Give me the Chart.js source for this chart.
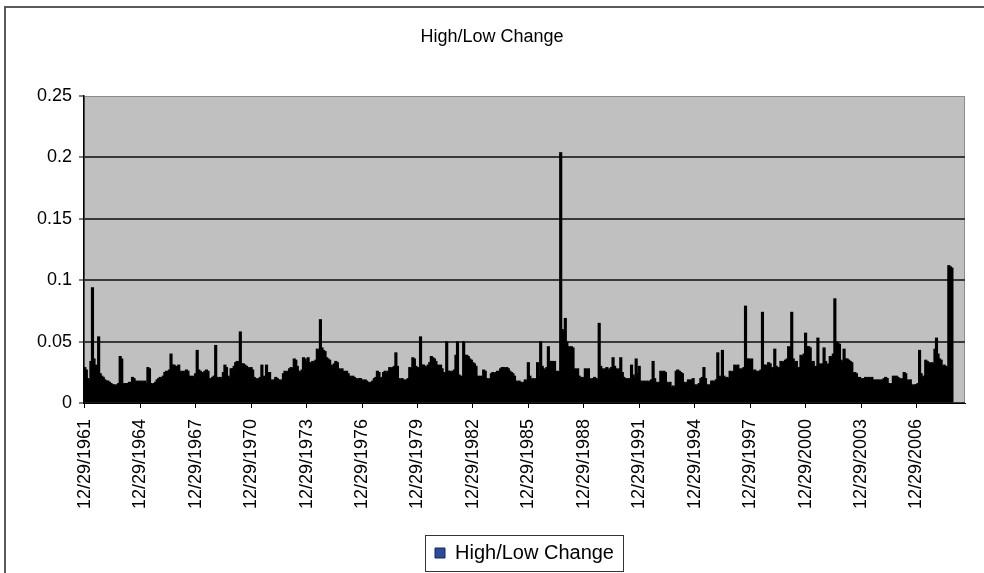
<!DOCTYPE html>
<html>
<head>
<meta charset="utf-8">
<title>High/Low Change</title>
<script src="https://cdn.jsdelivr.net/npm/chart.js@4.4.1/dist/chart.umd.min.js"></script>
<style>
  html, body { margin: 0; padding: 0; background: #fff; }
  canvas { display: block; }
</style>
</head>
<body>
<canvas id="chart" width="984" height="573"></canvas>
<script>
// Monthly high/low change, one row of 12 months per line (each row starts in December).
const dec1961_nov1969 = [
  0.029, 0.027, 0.020, 0.019, 0.034, 0.094, 0.036, 0.031, 0.030, 0.054, 0.024, 0.022,
  0.021, 0.019, 0.018, 0.018, 0.017, 0.016, 0.015, 0.015, 0.014, 0.015, 0.016, 0.038,
  0.036, 0.016, 0.015, 0.016, 0.016, 0.017, 0.016, 0.021, 0.020, 0.018, 0.017, 0.018,
  0.017, 0.018, 0.017, 0.018, 0.016, 0.029, 0.028, 0.016, 0.015, 0.016, 0.017, 0.019,
  0.020, 0.021, 0.020, 0.022, 0.025, 0.026, 0.024, 0.027, 0.040, 0.031, 0.031, 0.030,
  0.029, 0.031, 0.026, 0.025, 0.026, 0.024, 0.027, 0.026, 0.022, 0.021, 0.022, 0.020,
  0.024, 0.043, 0.027, 0.026, 0.025, 0.024, 0.026, 0.027, 0.026, 0.020, 0.019, 0.021,
  0.022, 0.047, 0.021, 0.020, 0.021, 0.019, 0.025, 0.031, 0.029, 0.022, 0.021, 0.028
];
const dec1969_nov1977 = [
  0.028, 0.030, 0.033, 0.034, 0.033, 0.058, 0.032, 0.032, 0.031, 0.030, 0.029, 0.028,
  0.029, 0.027, 0.021, 0.020, 0.019, 0.020, 0.021, 0.031, 0.022, 0.021, 0.031, 0.022,
  0.025, 0.019, 0.018, 0.019, 0.021, 0.020, 0.019, 0.018, 0.019, 0.024, 0.026, 0.025,
  0.026, 0.028, 0.029, 0.028, 0.036, 0.035, 0.030, 0.026, 0.025, 0.027, 0.037, 0.036,
  0.034, 0.037, 0.033, 0.032, 0.034, 0.033, 0.035, 0.044, 0.042, 0.068, 0.045, 0.043,
  0.042, 0.037, 0.036, 0.035, 0.031, 0.030, 0.032, 0.034, 0.033, 0.028, 0.027, 0.028,
  0.026, 0.025, 0.026, 0.024, 0.022, 0.021, 0.022, 0.021, 0.020, 0.019, 0.020, 0.020,
  0.019, 0.018, 0.019, 0.018, 0.017, 0.016, 0.017, 0.018, 0.020, 0.021, 0.026, 0.025
];
const dec1977_nov1985 = [
  0.020, 0.021, 0.025, 0.026, 0.024, 0.026, 0.029, 0.028, 0.029, 0.030, 0.041, 0.030,
  0.020, 0.019, 0.020, 0.019, 0.018, 0.019, 0.020, 0.029, 0.028, 0.037, 0.036, 0.030,
  0.029, 0.028, 0.054, 0.031, 0.031, 0.030, 0.029, 0.031, 0.033, 0.038, 0.037, 0.036,
  0.034, 0.031, 0.030, 0.031, 0.028, 0.025, 0.024, 0.050, 0.026, 0.026, 0.025, 0.026,
  0.027, 0.039, 0.050, 0.023, 0.022, 0.021, 0.050, 0.039, 0.039, 0.038, 0.036, 0.035,
  0.033, 0.032, 0.030, 0.022, 0.021, 0.022, 0.021, 0.027, 0.026, 0.020, 0.019, 0.020,
  0.024, 0.025, 0.024, 0.025, 0.026, 0.025, 0.028, 0.029, 0.029, 0.028, 0.029, 0.028,
  0.026, 0.025, 0.024, 0.022, 0.018, 0.017, 0.018, 0.017, 0.016, 0.017, 0.019, 0.018
];
const dec1985_nov1993 = [
  0.033, 0.022, 0.019, 0.020, 0.019, 0.020, 0.033, 0.022, 0.050, 0.030, 0.028, 0.027,
  0.029, 0.046, 0.034, 0.034, 0.033, 0.034, 0.025, 0.026, 0.025, 0.204, 0.060, 0.058,
  0.069, 0.050, 0.046, 0.045, 0.046, 0.045, 0.028, 0.027, 0.028, 0.022, 0.020, 0.021,
  0.020, 0.028, 0.027, 0.028, 0.020, 0.019, 0.020, 0.021, 0.020, 0.019, 0.065, 0.030,
  0.028, 0.027, 0.028, 0.029, 0.027, 0.028, 0.029, 0.037, 0.030, 0.028, 0.027, 0.028,
  0.037, 0.025, 0.021, 0.020, 0.019, 0.020, 0.019, 0.031, 0.023, 0.021, 0.036, 0.024,
  0.030, 0.018, 0.017, 0.018, 0.017, 0.018, 0.017, 0.018, 0.019, 0.034, 0.020, 0.017,
  0.016, 0.017, 0.026, 0.025, 0.026, 0.025, 0.017, 0.016, 0.017, 0.013, 0.014, 0.013
];
const dec1993_nov2001 = [
  0.026, 0.027, 0.026, 0.025, 0.024, 0.017, 0.016, 0.017, 0.019, 0.018, 0.019, 0.020,
  0.015, 0.014, 0.015, 0.016, 0.020, 0.021, 0.029, 0.020, 0.014, 0.015, 0.014, 0.018,
  0.018, 0.017, 0.019, 0.041, 0.022, 0.020, 0.043, 0.022, 0.020, 0.021, 0.020, 0.026,
  0.025, 0.026, 0.031, 0.030, 0.031, 0.028, 0.027, 0.028, 0.029, 0.079, 0.036, 0.036,
  0.035, 0.036, 0.026, 0.027, 0.026, 0.025, 0.026, 0.027, 0.074, 0.031, 0.031, 0.030,
  0.033, 0.032, 0.028, 0.029, 0.044, 0.030, 0.028, 0.029, 0.034, 0.033, 0.034, 0.035,
  0.036, 0.046, 0.045, 0.074, 0.036, 0.033, 0.034, 0.028, 0.029, 0.039, 0.038, 0.040,
  0.057, 0.046, 0.046, 0.045, 0.033, 0.034, 0.029, 0.030, 0.053, 0.032, 0.031, 0.032
];
const dec2001_nov2008 = [
  0.045, 0.034, 0.031, 0.032, 0.038, 0.037, 0.040, 0.085, 0.050, 0.049, 0.048, 0.035,
  0.034, 0.044, 0.036, 0.036, 0.035, 0.034, 0.033, 0.024, 0.025, 0.024, 0.020, 0.021,
  0.019, 0.020, 0.019, 0.021, 0.020, 0.021, 0.020, 0.021, 0.019, 0.018, 0.019, 0.018,
  0.019, 0.018, 0.019, 0.020, 0.021, 0.020, 0.016, 0.015, 0.016, 0.022, 0.021, 0.022,
  0.021, 0.020, 0.019, 0.020, 0.025, 0.024, 0.019, 0.018, 0.019, 0.015, 0.014, 0.015,
  0.015, 0.016, 0.043, 0.024, 0.021, 0.022, 0.035, 0.034, 0.033, 0.032, 0.033, 0.032,
  0.044, 0.053, 0.040, 0.036, 0.035, 0.030, 0.031, 0.030, 0.029, 0.112, 0.111, 0.110
];

// Axis labels, one every three years
const tickLabels = [
  '12/29/1961', '12/29/1964', '12/29/1967', '12/29/1970', '12/29/1973', '12/29/1976',
  '12/29/1979', '12/29/1982', '12/29/1985', '12/29/1988', '12/29/1991', '12/29/1994',
  '12/29/1997', '12/29/2000', '12/29/2003', '12/29/2006'
];
const MONTHS_PER_LABEL = 36;
const START_YEAR = 1961;      // first category is December 1961
const TOTAL_MONTHS = 572;     // axis runs on to mid 2009

const seriesValues = [].concat(
  dec1961_nov1969, dec1969_nov1977, dec1977_nov1985,
  dec1985_nov1993, dec1993_nov2001, dec2001_nov2008
);

// Month categories: "12/1961", "1/1962", ...
const categories = [];
for (let i = 0; i < TOTAL_MONTHS; i++) {
  const m = (11 + i) % 12 + 1;
  const y = START_YEAR + Math.floor((11 + i) / 12);
  categories.push(m + '/' + y);
}

const FONT = 'Liberation Sans, Arial, sans-serif';

const chartFrame = {
  id: 'chartFrame',
  beforeDraw(chart) {
    const { ctx, chartArea: a } = chart;
    ctx.save();
    ctx.fillStyle = '#ffffff';
    ctx.fillRect(0, 0, chart.width, chart.height);
    // outer chart border
    ctx.strokeStyle = '#5a5a5a';
    ctx.lineWidth = 2;
    ctx.beginPath();
    ctx.moveTo(5, chart.height);
    ctx.lineTo(5, 7);
    ctx.lineTo(chart.width, 7);
    ctx.stroke();
    // plot area
    ctx.fillStyle = '#c0c0c0';
    ctx.fillRect(a.left, a.top, a.right - a.left, a.bottom - a.top);
    ctx.strokeStyle = '#8c8c8c';
    ctx.lineWidth = 1;
    ctx.strokeRect(a.left + 0.5, a.top + 0.5, a.right - a.left - 1, a.bottom - a.top);
    ctx.restore();
  },
  afterLayout(chart) {
    // title centred on the whole chart, legend centred under the plot area
    if (chart.titleBlock) {
      chart.titleBlock.left = 0;
      chart.titleBlock.right = chart.width;
    }
    const lg = chart.legend;
    lg.left = chart.chartArea.left;
    lg.right = chart.chartArea.right;
  },
  afterDraw(chart) {
    const hb = chart.legend.legendHitBoxes && chart.legend.legendHitBoxes[0];
    if (!hb) return;
    const { ctx } = chart;
    ctx.save();
    ctx.strokeStyle = '#333333';
    ctx.lineWidth = 1;
    ctx.strokeRect(Math.round(hb.left - 10) + 0.5, Math.round(hb.top - 8) + 0.5,
                   Math.round(hb.width + 19), Math.round(hb.height + 16));
    ctx.restore();
  }
};

new Chart(document.getElementById('chart'), {
  type: 'bar',
  data: {
    labels: categories,
    datasets: [{
      label: 'High/Low Change',
      data: seriesValues,
      backgroundColor: '#000000',
      borderWidth: 0,
      barThickness: 2.5
    }]
  },
  options: {
    responsive: false,
    animation: false,
    layout: { padding: { left: 0, right: 19, top: 0, bottom: 0 } },
    plugins: {
      title: {
        display: true,
        text: 'High/Low Change',
        color: '#000',
        font: { family: FONT, size: 18, weight: 'normal' },
        padding: { top: 26, bottom: 48.4 }
      },
      legend: {
        position: 'bottom',
        labels: {
          color: '#000',
          font: { family: FONT, size: 20 },
          boxWidth: 10,
          boxHeight: 10,
          padding: 10,
          generateLabels: (chart) => [{
            text: chart.data.datasets[0].label,
            fillStyle: '#2b4c9b',
            strokeStyle: '#14285a',
            lineWidth: 1,
            hidden: false,
            datasetIndex: 0
          }]
        }
      },
      tooltip: { enabled: false }
    },
    scales: {
      x: {
        type: 'category',
        offset: true,
        grid: {
          display: true,
          drawOnChartArea: false,
          drawTicks: true,
          tickLength: 5,
          tickColor: '#000',
          tickWidth: 1,
          offset: false
        },
        border: { display: true, color: '#000', width: 1 },
        ticks: {
          autoSkip: false,
          minRotation: 90,
          maxRotation: 90,
          padding: 11,
          color: '#000',
          font: { family: FONT, size: 18 },
          callback: (value) => tickLabels[value / MONTHS_PER_LABEL]
        },
        afterBuildTicks(scale) {
          scale.ticks = scale.ticks.filter(t => t.value % MONTHS_PER_LABEL === 0);
        },
        afterFit(scale) { scale.height = 130; }
      },
      y: {
        min: 0,
        max: 0.25,
        ticks: {
          stepSize: 0.05,
          padding: 7,
          color: '#000',
          font: { family: FONT, size: 18 },
          callback: (v) => String(Math.round(v * 100) / 100)
        },
        grid: {
          color: (ctx) => (ctx.tick && ctx.tick.value > 0.249) ? 'rgba(0,0,0,0)' : '#383838',
          lineWidth: 2,
          drawTicks: true,
          tickLength: 5,
          tickColor: '#000',
          tickWidth: 1
        },
        border: { display: true, color: '#000', width: 1.5 },
        afterFit(scale) { scale.width = 84; }
      }
    }
  },
  plugins: [chartFrame]
});
</script>
</body>
</html>
